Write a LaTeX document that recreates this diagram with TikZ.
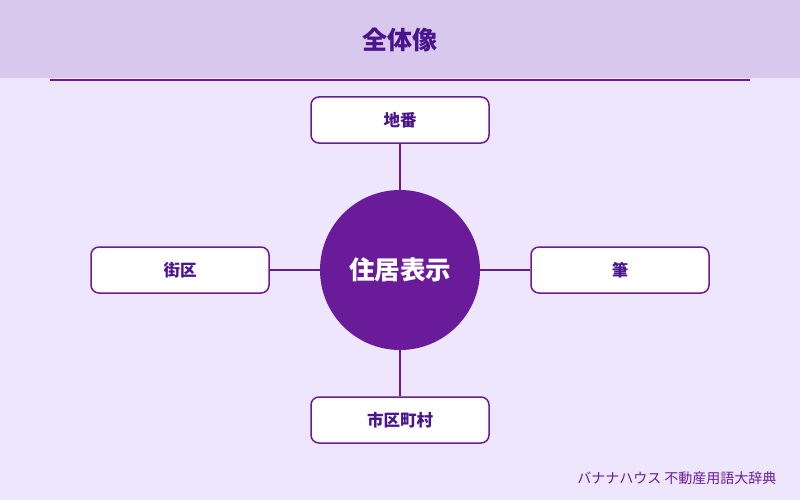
\documentclass[tikz,border=0pt]{standalone}
\usepackage{fontspec}
\setmainfont{Noto Sans CJK JP}
\usepackage{tikz}
\definecolor{bgc}{HTML}{EDE6FD}
\definecolor{headc}{HTML}{D9C8EE}
\definecolor{purp}{HTML}{6A1B9A}
\definecolor{dpurp}{HTML}{4A148C}
\tikzset{
  partbox/.style={draw=purp, line width=1.5pt, fill=white, rounded corners=8pt,
    minimum width=178pt, minimum height=46pt, text=dpurp, font=\fontsize{16.5}{20}\selectfont\bfseries},
  link/.style={draw=purp, line width=1.5pt}
}

\begin{document}
\begin{tikzpicture}[x=1pt,y=-1pt]
	\fill[bgc] (0,0) rectangle (800,500);
	\useasboundingbox (0,0) rectangle (800,500);
	\fill[headc] (0,0) rectangle (800,78);
	\node[text=dpurp, font=\fontsize{25}{30}\selectfont\bfseries] at (400,40) (TITLE) {全体像};
	\draw[purp, line width=1.5pt] (50,80) -- (750,80);
	\node[circle, fill=purp, minimum size=160pt, inner sep=0pt, text=white,
	  font=\fontsize{25.5}{30}\selectfont\bfseries] at (400,270) (CORE) {住居表示};
	\node[partbox] at (400,120) (CHIBAN) {地番};
	\node[partbox] at (180,270) (GAIKU) {街区};
	\node[partbox] at (620,270) (FUDE) {筆};
	\node[partbox] at (400,420) (SHIKU) {市区町村};
	\draw[link] (CHIBAN.south) -- (CORE.north);
	\draw[link] (GAIKU.east) -- (CORE.west);
	\draw[link] (FUDE.west) -- (CORE.east);
	\draw[link] (SHIKU.north) -- (CORE.south);
	\node[anchor=east, text=purp, font=\fontsize{14}{17}\selectfont] at (780,478) (CREDIT) {バナナハウス 不動産用語大辞典};
\end{tikzpicture}
\end{document}
